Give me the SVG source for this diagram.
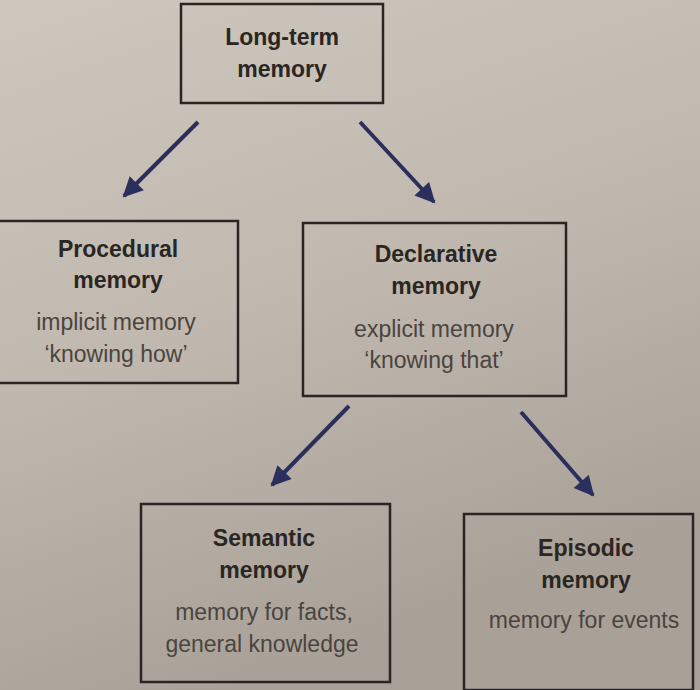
<svg xmlns="http://www.w3.org/2000/svg" width="700" height="690" viewBox="0 0 700 690">
<defs>
<linearGradient id="bg" x1="0" y1="0" x2="0.35" y2="1">
<stop offset="0" stop-color="#cec7bd"/>
<stop offset="0.5" stop-color="#c1b9af"/>
<stop offset="1" stop-color="#a9a198"/>
</linearGradient>
<marker id="ah" viewBox="0 0 10 10" refX="9" refY="5" markerWidth="5.5" markerHeight="5" orient="auto" markerUnits="strokeWidth">
<path d="M0,0 L10,5 L0,10 z" fill="#2b2f5c"/>
</marker>
<style>
.box{fill:none;stroke:#2a2422;stroke-width:2.5}
.b{font-family:"Liberation Sans",Arial,sans-serif;font-weight:bold;font-size:23px;fill:#2a2624;text-anchor:middle}
.r{font-family:"Liberation Sans",Arial,sans-serif;font-size:23px;fill:#4a4440;text-anchor:middle}
.arr{stroke:#2b2f5c;stroke-width:4;fill:none;marker-end:url(#ah)}
</style>
</defs>
<rect width="700" height="690" fill="url(#bg)"/>
<g id="connectors">
<line class="arr" x1="198" y1="122" x2="124" y2="196"/>
<line class="arr" x1="360" y1="122" x2="434" y2="202"/>
<line class="arr" x1="349" y1="406" x2="272" y2="485"/>
<line class="arr" x1="521" y1="412" x2="593" y2="495"/>
</g>
<g id="long-term">
<rect class="box" x="181" y="4" width="202" height="99"/>
<text class="b" x="282" y="45">Long-term</text>
<text class="b" x="282" y="77">memory</text>
</g>
<g id="procedural">
<rect class="box" x="-2" y="221" width="240" height="162"/>
<text class="b" x="118" y="257">Procedural</text>
<text class="b" x="118" y="288">memory</text>
<text class="r" x="116" y="330">implicit memory</text>
<text class="r" x="116" y="362">‘knowing how’</text>
</g>
<g id="declarative">
<rect class="box" x="303" y="223" width="263" height="173"/>
<text class="b" x="436" y="262">Declarative</text>
<text class="b" x="436" y="294">memory</text>
<text class="r" x="434" y="337">explicit memory</text>
<text class="r" x="434" y="368">‘knowing that’</text>
</g>
<g id="semantic">
<rect class="box" x="141" y="504" width="249" height="178"/>
<text class="b" x="264" y="546">Semantic</text>
<text class="b" x="264" y="578">memory</text>
<text class="r" x="264" y="620">memory for facts,</text>
<text class="r" x="262" y="652">general knowledge</text>
</g>
<g id="episodic">
<rect class="box" x="464" y="514" width="229" height="176"/>
<text class="b" x="586" y="556">Episodic</text>
<text class="b" x="586" y="588">memory</text>
<text class="r" x="584" y="628">memory for events</text>
</g>
</svg>
